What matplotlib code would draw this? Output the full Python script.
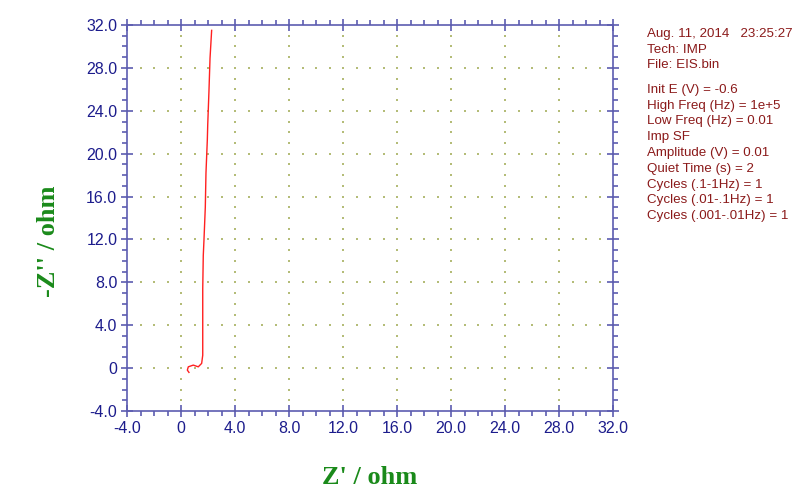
import matplotlib
matplotlib.use("Agg")
import matplotlib.pyplot as plt
import numpy as np
from matplotlib.ticker import MultipleLocator, FuncFormatter

# Impedance data (Nyquist)
z_real = [0.59, 0.47, 0.54, 0.91, 1.28, 1.53, 1.61, 1.61, 1.61, 1.65, 1.70,
          1.80, 1.85, 1.95, 1.98, 2.07, 2.15, 2.27]
z_imag = [-0.40, -0.19, 0.12, 0.28, 0.12, 0.44, 1.2, 4.3, 7.4, 10.5, 11.9,
          15.0, 18.2, 21.3, 22.7, 25.8, 28.9, 31.5]

x_ticks = [-4, 0, 4, 8, 12, 16, 20, 24, 28, 32]
y_ticks = [-4, 0, 4, 8, 12, 16, 20, 24, 28, 32]

info_head = ["Aug. 11, 2014   23:25:27", "Tech: IMP", "File: EIS.bin"]
info_body = ["Init E (V) = -0.6", "High Freq (Hz) = 1e+5", "Low Freq (Hz) = 0.01",
             "Imp SF", "Amplitude (V) = 0.01", "Quiet Time (s) = 2",
             "Cycles (.1-1Hz) = 1", "Cycles (.01-.1Hz) = 1", "Cycles (.001-.01Hz) = 1"]

axis_col = "#5c5cb0"
tick_col = "#1c1c8c"
grid_col = "#b4bc78"
label_col = "#1a8a1a"
text_col = "#8b1a1a"

fig = plt.figure(figsize=(8, 4.95), dpi=100)
ax = fig.add_axes([127/800, 1-411/495, (613-127)/800, (411-25)/495])

ax.set_xlim(-4, 32)
ax.set_ylim(-4, 32)

# dotted grid: dots every minor unit along each interior major line
minor = np.arange(-4, 33, 1)
for v in x_ticks[1:-1]:
    ax.scatter(np.full(len(minor), v), minor, s=0.9, color=grid_col, marker='s',
               linewidths=0, zorder=1)
for v in y_ticks[1:-1]:
    ax.scatter(minor, np.full(len(minor), v), s=0.9, color=grid_col, marker='s',
               linewidths=0, zorder=1)

ax.plot(z_real, z_imag, color="#ff2020", lw=1.0, zorder=3)

for s in ax.spines.values():
    s.set_color(axis_col)
    s.set_linewidth(1.2)

ax.xaxis.set_major_locator(MultipleLocator(4))
ax.yaxis.set_major_locator(MultipleLocator(4))
ax.xaxis.set_minor_locator(MultipleLocator(1))
ax.yaxis.set_minor_locator(MultipleLocator(1))
fmt = FuncFormatter(lambda v, p: "0" if abs(v) < 1e-9 else f"{v:.1f}")
ax.xaxis.set_major_formatter(fmt)
ax.yaxis.set_major_formatter(fmt)

ax.tick_params(which='major', direction='inout', length=8, width=1.2, color=axis_col,
               top=True, right=True, labelsize=11.5, labelcolor=tick_col,
               labelfontfamily='Liberation Sans', pad=3)
ax.tick_params(which='minor', direction='out', length=3.5, width=1.2, color=axis_col,
               top=True, right=True)

ax.set_xlabel("Z' / ohm", fontsize=19, fontweight='bold', family='Liberation Serif',
              color=label_col)
ax.xaxis.set_label_coords(0.5, -0.142)
ax.set_ylabel("-Z'' / ohm", fontsize=19, fontweight='bold', family='Liberation Serif',
              color=label_col)
ax.yaxis.set_label_coords(-0.137, 0.44)

y = 34
for line in info_head:
    fig.text(647/800, 1-y/495, line, fontsize=9.6, family='Liberation Sans',
             color=text_col, va='center', ha='left')
    y += 15.7
y += 8.6
for line in info_body:
    fig.text(647/800, 1-y/495, line, fontsize=9.6, family='Liberation Sans',
             color=text_col, va='center', ha='left')
    y += 15.8

fig.savefig("out.png", dpi=100)
